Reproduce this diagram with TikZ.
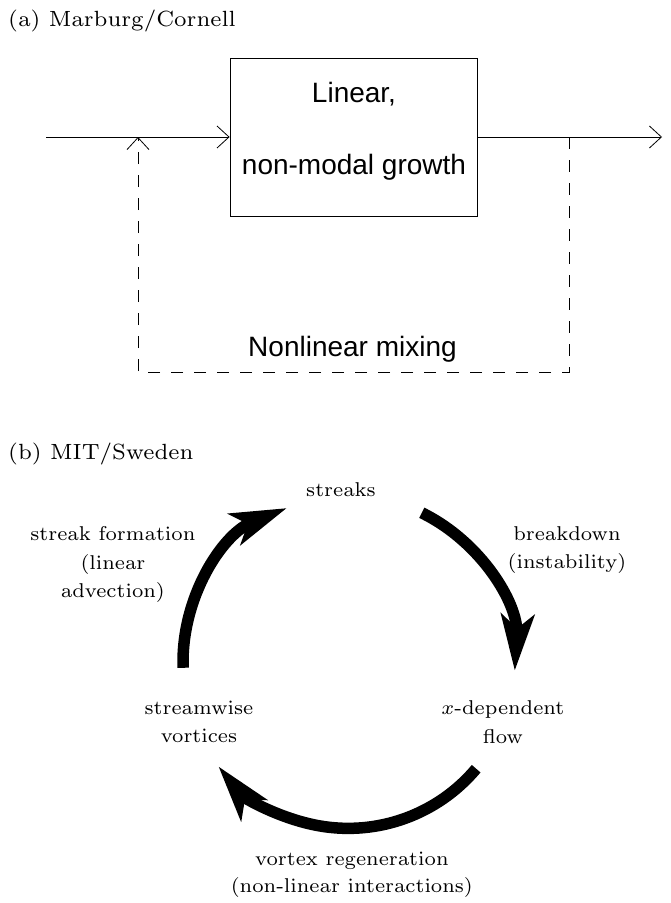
\documentclass[tikz,border=0pt]{standalone}
\usepackage{fontspec}
\newfontfamily\helv{Liberation Sans}
\usetikzlibrary{arrows.meta}
\font\labrm=cmr7 at 20pt
\font\titrm=cmr7 at 22pt
\font\labmi=cmmi7 at 20pt
\newcommand\mylabfont{\labrm\baselineskip=28.5pt\relax}
\newcommand\mylabfontb{\labrm\baselineskip=27pt\relax}
\begin{document}
\begin{tikzpicture}[x=1pt,y=1pt,
  lab/.style={font=\mylabfont, inner sep=0pt, align=center},
  titlelab/.style={font=\titrm, inner sep=0pt},
  sanslab/.style={font=\helv\fontsize{28}{34}\selectfont, inner sep=0pt},
  thin/.style={line width=0.8pt},
  barb/.style={-{Straight Barb[length=12pt,width=22pt]}},
  bigarrow/.style={line width=11.5pt, -{Stealth[length=56pt,width=33pt,inset=14pt]}},
  feedback/.style={thin, dash pattern=on 12pt off 11pt}
]
\useasboundingbox (0,0) rectangle (670,-903);

% ---------- (a) ----------
\node[titlelab, anchor=base west] (ta) at (8,-26) {(a) Marburg/Cornell};
\node[thin, draw, minimum width=247pt, minimum height=158pt, inner sep=0pt] (box) at (353.5,-137) {};
\node[sanslab, anchor=base] (l1) at (354,-102) {Linear,};
\node[sanslab, anchor=base] (l2) at (354,-174) {non-modal growth};
\coordinate (in) at (46,-137);
\coordinate (out) at (662,-137);
\coordinate (fbtop) at (569,-137);
\coordinate (fbr) at (569,-372);
\coordinate (fbl) at (138,-372);
\coordinate (fbin) at (138,-137);
\draw[thin, barb] (in) -- (box.west);
\draw[thin, barb] (box.east) -- (out);
\draw[feedback, barb] (fbtop) -- (fbr) -- (fbl) -- (fbin);
\node[sanslab, anchor=base] (mix) at (352.5,-356) {Nonlinear mixing};

% ---------- (b) ----------
\node[titlelab, anchor=base west] (tb) at (8,-459) {(b) MIT/Sweden};
\coordinate (cyc) at (349,-662);
\node[lab] (streaks) at (341,-490) {streaks};
\node[lab] (bd) at (567,-550) {breakdown\\(instability)};
\node[lab] (sf) at (113,-565) {streak formation\\(linear\\advection)};
\node[lab] (sv) at (199,-722) {streamwise\\vortices};
\node[lab] (xd) at (503,-722) {{\labmi x}-dependent\\flow};
\node[lab, font=\mylabfontb] (vr) at (352,-875) {vortex regeneration\\(non-linear interactions)};

\draw[bigarrow] ([shift={(64:166)}]cyc) arc[start angle=64, end angle=-3, radius=166];
\draw[bigarrow] ([shift={(-40:166)}]cyc) arc[start angle=-40, end angle=-141, radius=167];
\draw[bigarrow] ([shift={(182:166)}]cyc) arc[start angle=182, end angle=112, radius=166];
\end{tikzpicture}
\end{document}
